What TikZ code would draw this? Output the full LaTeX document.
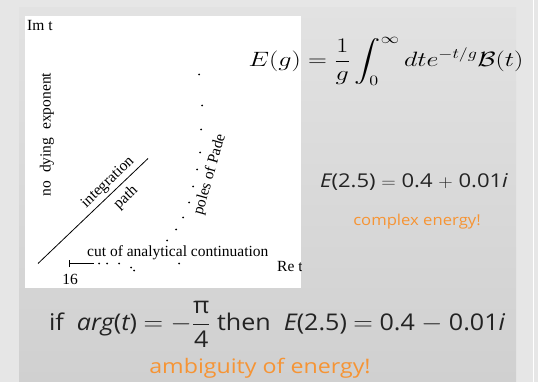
\documentclass[tikz,border=0pt]{standalone}
\usepackage{amsmath}
\usepackage{fontspec}
\usetikzlibrary{arrows.meta}
\newfontfamily\figfont{Liberation Serif}
\newfontfamily\slidefont{Open Sans}
\definecolor{outerbg}{RGB}{230,230,230}
\definecolor{paneltop}{RGB}{226,226,226}
\definecolor{panelbot}{RGB}{208,208,208}
\definecolor{slideorange}{RGB}{246,148,52}
\definecolor{slidetext}{RGB}{35,35,35}
\newcommand{\wide}[2]{\scalebox{#1}[1]{#2}}
\begin{document}
\begin{tikzpicture}[x=1pt,y=-1pt,every node/.style={inner sep=0pt},
    plotlabel/.style={font=\figfont\fontsize{15.5}{18}\selectfont},
    eqn/.style={font=\slidefont\fontsize{19}{23}\selectfont,text=slidetext},
    remark/.style={font=\slidefont\fontsize{15}{18}\selectfont,text=slideorange}]
    \fill[outerbg] (0,0) rectangle (538,381);
    \shade[top color=paneltop,bottom color=panelbot] (19,7) rectangle (516,381);
    \draw[white,line width=1pt] (533.5,0) -- (533.5,381);
    \fill[white] (25,16) rectangle (301,287);
    % plot of the Borel plane
    \begin{scope}
    \clip (25,16) rectangle (301,287);
    \node[plotlabel,anchor=west] (imt) at (27,25) {Im t};
    \node[plotlabel,rotate=90] (nodying) at (47,134) {no\ \ dying\ \ exponent};
    \coordinate (pathstart) at (38,263);
    \coordinate (pathend) at (148,158);
    \draw[line width=0.8pt] (pathstart) -- (pathend);
    \node[plotlabel,rotate=44] (integration) at (108,182) {integration};
    \node[plotlabel,rotate=44] (pathlabel) at (126,197) {path};
    \node[plotlabel,rotate=74] (poles) at (210,174) {poles of Pade};
    \foreach \p in {(199,74),(202,105),(201,129),(200,152),(197,169),(193,186),
        (189,202),(183,217),(176,229),(167,240),(179,263),(131,267),(134,270),
        (119,263),(107,263),(99,263)}
        \fill \p circle (1pt);
    \coordinate (cutstart) at (69,263);
    \coordinate (cutend) at (94,263);
    \draw[line width=0.8pt,{Bar[width=7pt]}-] (cutstart) -- (cutend);
    \node[plotlabel,anchor=base west] (cut) at (87,256) {cut of analytical continuation};
    \node[plotlabel,anchor=west] (ret) at (277,266) {Re t};
    \node[plotlabel] (sixteen) at (70,279) {16};
    \end{scope}
    % equations
    \node[font=\fontsize{22}{26}\selectfont] (borel) at (386,61)
        {\wide{1.26}{$\displaystyle E(g)=\frac{1}{g}\int_0^\infty dt e^{-t/g}\mathcal{B}(t)$}};
    \node[eqn] (plus) at (414,182)
        {\wide{1.16}{\itshape E\upshape(2.5) $=$ 0.4 $+$ 0.01\itshape i}};
    \node[remark] (complex) at (417,221) {\wide{1.11}{complex energy!}};
    \node[eqn,anchor=base,font=\slidefont\fontsize{23}{27}\selectfont] (minus) at (277,330)
        {\wide{1.09}{if \ \itshape arg\upshape(\itshape t\upshape) $=-\dfrac{\text{π}}{\text{4}}$ then \ \itshape E\upshape(2.5) $=$ 0.4 $-$ 0.01\itshape i}};
    \node[remark,font=\slidefont\fontsize{20}{24}\selectfont] (ambiguity) at (260,368)
        {\wide{1.16}{ambiguity of energy!}};
\end{tikzpicture}
\end{document}
